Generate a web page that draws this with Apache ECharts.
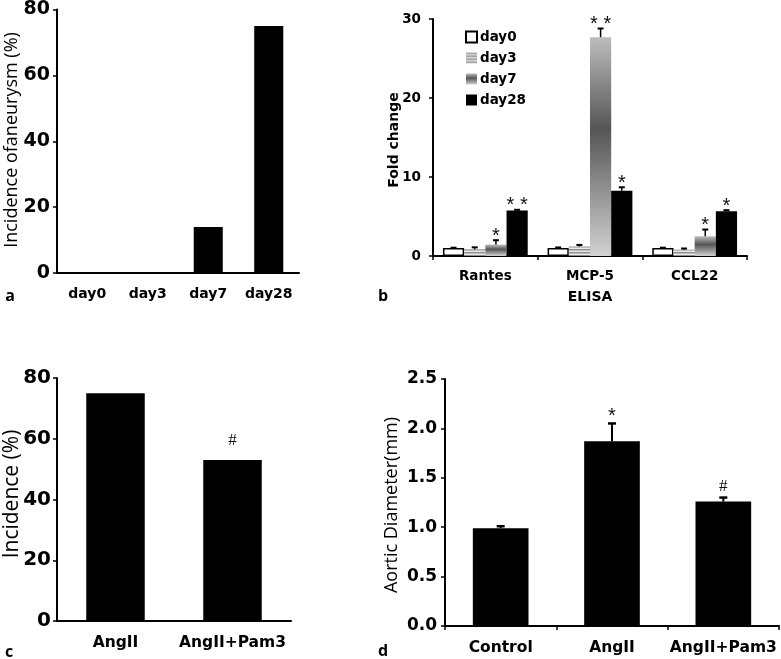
<!DOCTYPE html>
<html><head><meta charset="utf-8">
<script src="https://cdn.jsdelivr.net/npm/echarts@6/dist/echarts.min.js"></script>
<style>html,body{margin:0;padding:0;background:#fff}#c{width:781px;height:659px}</style>
</head><body><div id="c"></div>
<script>
// ---- Panel a ----
const daysA = ['day0', 'day3', 'day7', 'day28'];
const incidenceA = [0, 0, 14, 75];
// ---- Panel b ----
const cytokines = ['Rantes', 'MCP-5', 'CCL22'];
const bSeriesNames = ['day0', 'day3', 'day7', 'day28'];
const foldDay0 = [1.0, 1.0, 1.0];
const foldDay3 = [0.85, 1.2, 0.8];
const foldDay7 = [1.45, 27.7, 2.5];
const foldDay28 = [5.75, 8.25, 5.65];
const errDay0 = [0.05, 0.08, 0.05];
const errDay3 = [0.25, 0.2, 0.15];
const errDay7 = [0.55, 1.1, 0.85];
const errDay28 = [0.1, 0.45, 0.15];
const sigDay0 = ['', '', ''];
const sigDay3 = ['', '', ''];
const sigDay7 = ['*', '**', '*'];
const sigDay28 = ['**', '*', '*'];
// ---- Panel c ----
const groupsC = ['AngII', 'AngII+Pam3'];
const incidenceC = [75, 53];
const sigC = ['', '#'];
// ---- Panel d ----
const groupsD = ['Control', 'AngII', 'AngII+Pam3'];
const diameterD = [0.99, 1.87, 1.26];
const errD = [0.02, 0.18, 0.04];
const sigD = ['', '*', '#'];

const chart = echarts.init(document.getElementById('c'));

// striped fill for day3
const pc = document.createElement('canvas');
pc.width = 4; pc.height = 3;
const g2 = pc.getContext('2d');
g2.fillStyle = '#e8e8e8'; g2.fillRect(0, 0, 4, 3);
g2.fillStyle = '#8f8f8f'; g2.fillRect(0, 0, 4, 1.5);
const stripe = { image: pc, repeat: 'repeat' };
const grad7 = new echarts.graphic.LinearGradient(0, 0, 0, 1, [
  { offset: 0, color: '#bdbdbd' }, { offset: 0.42, color: '#555555' }, { offset: 1, color: '#d2d2d2' }
]);

const BOLD = 'DejaVu Sans';
function yAx(grid, max, interval, fontSize, margin, fmt) {
  return {
    type: 'value', gridIndex: grid, min: 0, max: max, interval: interval,
    axisLine: { show: true, lineStyle: { color: '#000', width: 2 } },
    axisTick: { show: true, length: 4, lineStyle: { color: '#000', width: 1.5 } },
    splitLine: { show: false },
    axisLabel: { fontFamily: BOLD, fontWeight: 'bold', fontSize: fontSize, color: '#000', margin: margin, formatter: fmt }
  };
}
function xAx(grid, data, fontSize, margin, ticks) {
  return {
    type: 'category', gridIndex: grid, data: data,
    axisLine: { show: true, lineStyle: { color: '#000', width: 2 } },
    axisTick: { show: ticks, length: 4, lineStyle: { color: '#000', width: 1.5 } },
    splitLine: { show: false },
    axisLabel: { fontFamily: BOLD, fontWeight: 'bold', fontSize: fontSize, color: '#000', margin: margin, interval: 0 }
  };
}

function errorSeries(gridIdx, items, nSeries, fillFrac, capHalf, lw, sigSize, starDy, hashDy) {
  return {
    type: 'custom', xAxisIndex: gridIdx, yAxisIndex: gridIdx, z: 5, silent: true,
    data: items.map(it => [it.cat, it.v, it.e]),
    encode: { x: 0, y: 1 },
    renderItem: function (params, api) {
      const it = items[params.dataIndex];
      const c = api.coord([api.value(0), api.value(1)]);
      const slot = api.size([1, 0])[0];
      const bw = slot * fillFrac / nSeries;
      const x = c[0] + (it.s - (nSeries - 1) / 2) * bw;
      const yTop = api.coord([api.value(0), api.value(1) + api.value(2)])[1];
      const y0 = c[1];
      const ch = [];
      if (it.e > 0) {
        ch.push({ type: 'line', shape: { x1: x, y1: y0, x2: x, y2: yTop }, style: { stroke: '#000', lineWidth: lw } });
        ch.push({ type: 'line', shape: { x1: x - capHalf, y1: yTop, x2: x + capHalf, y2: yTop }, style: { stroke: '#000', lineWidth: lw + 0.5 } });
      }
      if (it.sig) {
        const isHash = it.sig.indexOf('#') >= 0;
        ch.push({
          type: 'text',
          style: {
            text: isHash ? it.sig : it.sig.split('').join(' '),
            x: x, y: yTop - (isHash ? hashDy : starDy),
            align: 'center', verticalAlign: 'bottom',
            fontFamily: isHash ? 'Liberation Serif' : 'Liberation Sans',
            fontSize: isHash ? sigSize[1] : sigSize[0], fill: '#111'
          }
        });
      }
      return { type: 'group', children: ch };
    }
  };
}

// build items for error series
const bVals = [foldDay0, foldDay3, foldDay7, foldDay28];
const bErrs = [errDay0, errDay3, errDay7, errDay28];
const bSigs = [sigDay0, sigDay3, sigDay7, sigDay28];
const bItems = [];
bVals.forEach((arr, s) => arr.forEach((v, i) => bItems.push({ cat: i, s: s, v: v, e: bErrs[s][i], sig: bSigs[s][i] })));
const cItems = incidenceC.map((v, i) => ({ cat: i, s: 0, v: v, e: 0, sig: sigC[i] }));
const dItems = diameterD.map((v, i) => ({ cat: i, s: 0, v: v, e: errD[i], sig: sigD[i] }));

const bFills = [
  { color: '#fff', borderColor: '#000', borderWidth: 1.5 },
  { color: stripe },
  { color: grad7 },
  { color: '#000' }
];

const option = {
  animation: false,
  backgroundColor: '#fff',
  grid: [
    { left: 57, top: 7, width: 242, height: 266 },
    { left: 433, top: 19, width: 314, height: 237 },
    { left: 57, top: 378, width: 234, height: 243 },
    { left: 445, top: 379, width: 334, height: 247 }
  ],
  xAxis: [
    xAx(0, daysA, 14, 14, false),
    xAx(1, cytokines, 13.5, 13, true),
    xAx(2, groupsC, 15.5, 14, false),
    xAx(3, groupsD, 15.5, 14, true)
  ],
  yAxis: [
    yAx(0, 80, 20, 19, 7),
    yAx(1, 30, 10, 13.5, 12),
    yAx(2, 80, 20, 20, 6),
    yAx(3, 2.5, 0.5, 17, 8, v => v.toFixed(1))
  ],
  legend: {
    orient: 'vertical', left: 460, top: 25, itemWidth: 11, itemHeight: 11, itemGap: 7,
    icon: 'rect', selectedMode: false, data: bSeriesNames,
    textStyle: { fontFamily: BOLD, fontWeight: 'bold', fontSize: 13.5, color: '#000', lineHeight: 14, padding: [0, 0, 0, -2] }
  },
  series: [
    { type: 'bar', xAxisIndex: 0, yAxisIndex: 0, data: incidenceA, barWidth: '48%', itemStyle: { color: '#000' } },
    ...bSeriesNames.map((n, s) => ({
      type: 'bar', name: n, xAxisIndex: 1, yAxisIndex: 1, data: bVals[s],
      barGap: '0%', barCategoryGap: '19%', itemStyle: bFills[s]
    })),
    errorSeries(1, bItems, 4, 0.81, 3, 1.5, [20, 15], -6, 3),
    { type: 'bar', xAxisIndex: 2, yAxisIndex: 2, data: incidenceC, barWidth: '50%', itemStyle: { color: '#000' } },
    errorSeries(2, cItems, 1, 0.5, 4, 2, [20, 17], -3, 11),
    { type: 'bar', xAxisIndex: 3, yAxisIndex: 3, data: diameterD, barWidth: '50%', itemStyle: { color: '#000' } },
    errorSeries(3, dItems, 1, 0.5, 4, 2, [20, 17], -3, 3)
  ],
  graphic: [
    { type: 'text', x: 12, y: 140, rotation: Math.PI / 2, style: { text: 'Incidence ofaneurysm (%)', align: 'center', verticalAlign: 'middle', fontFamily: 'Open Sans', fontSize: 18, fill: '#000' } },
    { type: 'text', x: 394, y: 140, rotation: Math.PI / 2, style: { text: 'Fold change', align: 'center', verticalAlign: 'middle', fontFamily: BOLD, fontWeight: 'bold', fontSize: 14, fill: '#000' } },
    { type: 'text', x: 12, y: 494, rotation: Math.PI / 2, style: { text: 'Incidence (%)', align: 'center', verticalAlign: 'middle', fontFamily: 'Open Sans', fontSize: 21, fill: '#000' } },
    { type: 'text', x: 392, y: 505, rotation: Math.PI / 2, style: { text: 'Aortic Diameter(mm)', align: 'center', verticalAlign: 'middle', fontFamily: 'Open Sans', fontSize: 18, fill: '#000' } },
    { type: 'text', x: 590, y: 297, style: { text: 'ELISA', align: 'center', verticalAlign: 'middle', fontFamily: BOLD, fontWeight: 'bold', fontSize: 14, fill: '#000' } },
    { type: 'text', x: 10, y: 296, style: { text: 'a', align: 'center', verticalAlign: 'middle', fontFamily: 'Open Sans', fontWeight: 'bold', fontSize: 16, fill: '#000' } },
    { type: 'text', x: 383, y: 296, style: { text: 'b', align: 'center', verticalAlign: 'middle', fontFamily: 'Open Sans', fontWeight: 'bold', fontSize: 16, fill: '#000' } },
    { type: 'text', x: 9, y: 652, style: { text: 'c', align: 'center', verticalAlign: 'middle', fontFamily: 'Open Sans', fontWeight: 'bold', fontSize: 16, fill: '#000' } },
    { type: 'text', x: 383, y: 651, style: { text: 'd', align: 'center', verticalAlign: 'middle', fontFamily: 'Open Sans', fontWeight: 'bold', fontSize: 16, fill: '#000' } }
  ]
};
chart.setOption(option);
</script>
</body></html>
